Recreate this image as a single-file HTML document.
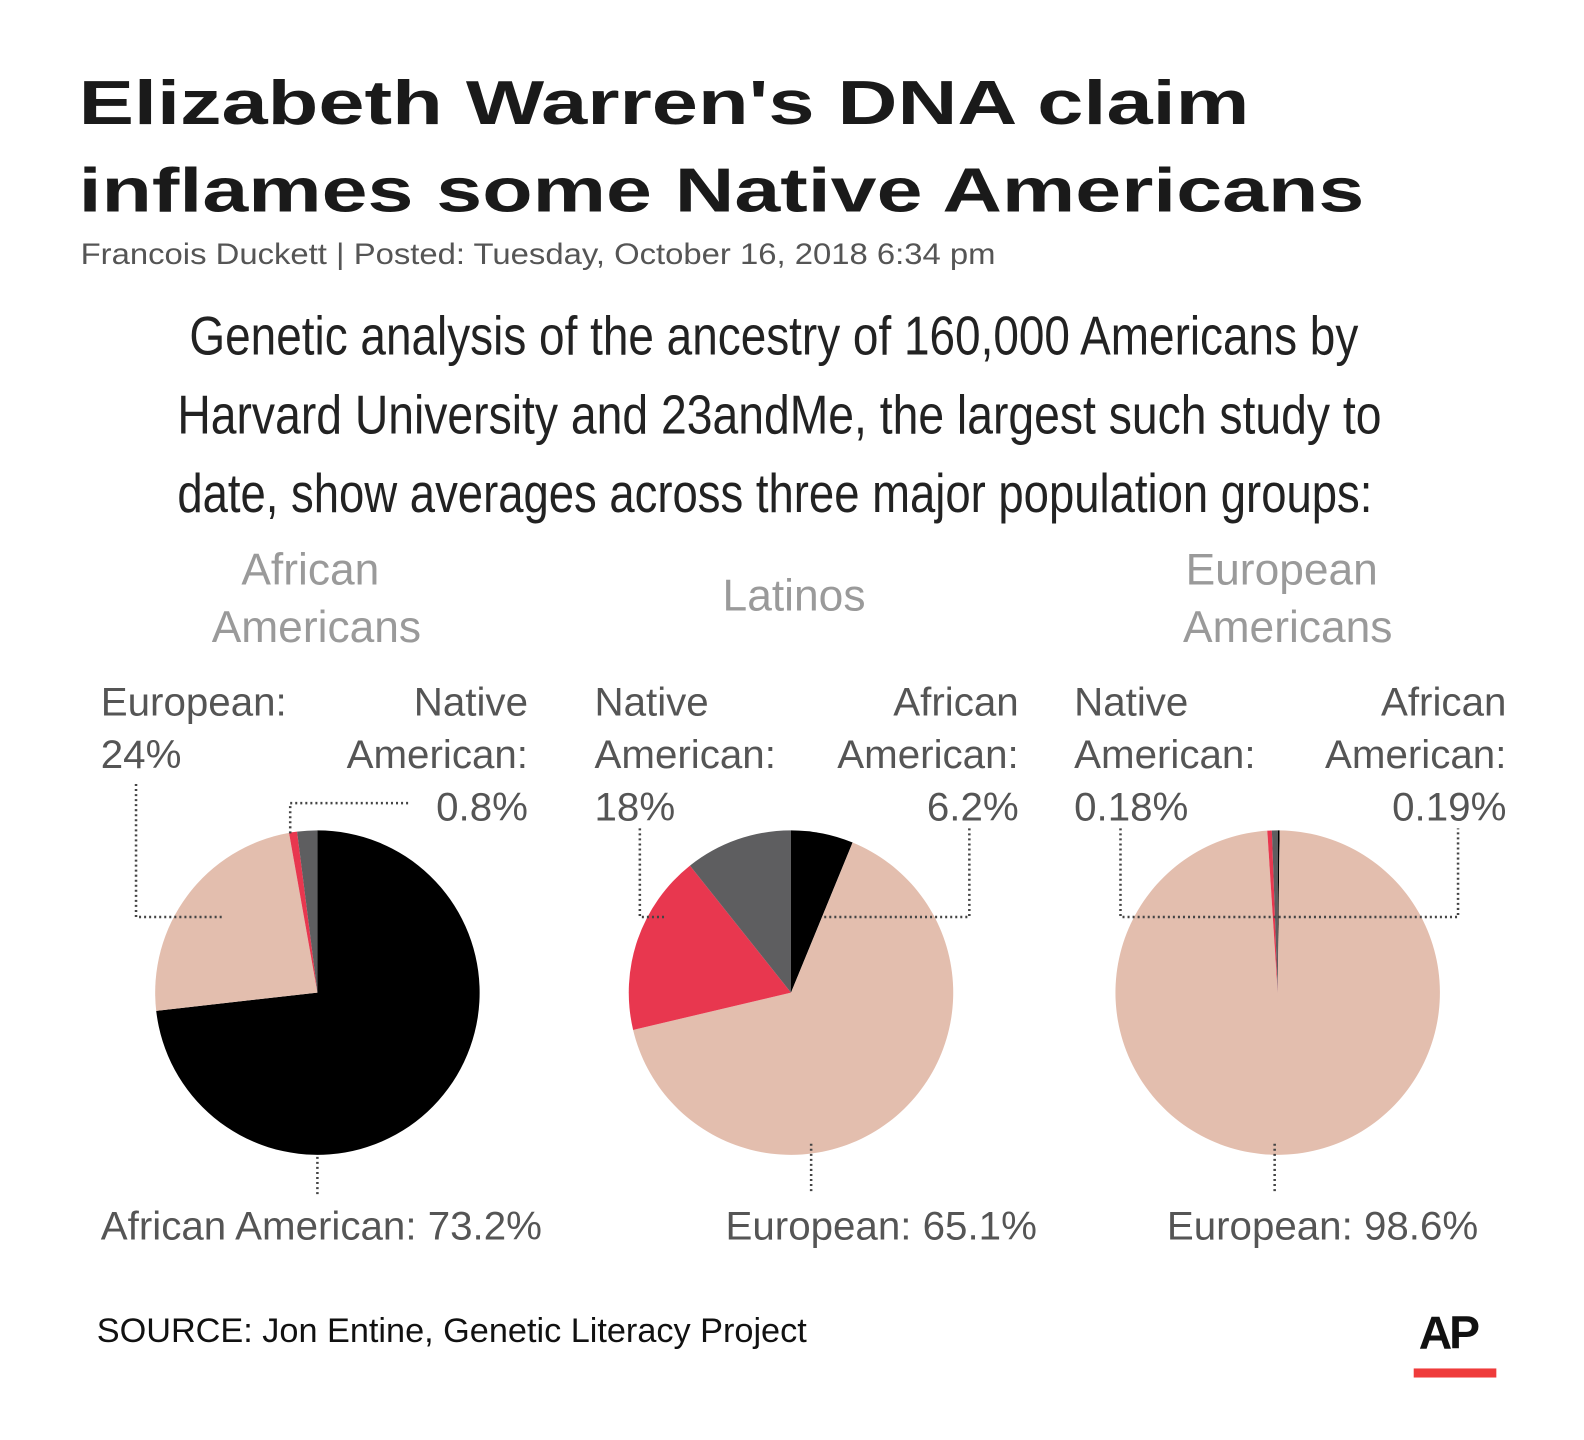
<!DOCTYPE html>
<html><head><meta charset="utf-8"><style>
html,body{margin:0;padding:0;background:#fff;}
svg{display:block;}
text{font-family:"Liberation Sans",Arial,sans-serif;}
</style></head><body>
<svg id="chart" width="1584" height="1440" viewBox="0 0 1572 1429" preserveAspectRatio="none">
<rect width="1572" height="1429" fill="#fff"/>
<text x="78" y="123" font-size="62" font-weight="bold" fill="#1a1a1a" textLength="1162" lengthAdjust="spacingAndGlyphs">Elizabeth Warren's DNA claim</text>
<text x="78" y="210" font-size="62" font-weight="bold" fill="#1a1a1a" textLength="1276" lengthAdjust="spacingAndGlyphs">inflames some Native Americans</text>
<text x="80" y="262" font-size="29" fill="#555" textLength="908" lengthAdjust="spacingAndGlyphs">Francois Duckett | Posted: Tuesday, October 16, 2018 6:34 pm</text>
<g fill="#222" font-size="54">
<text x="188" y="352" textLength="1160" lengthAdjust="spacingAndGlyphs">Genetic analysis of the ancestry of 160,000 Americans by</text>
<text x="176" y="430" textLength="1195" lengthAdjust="spacingAndGlyphs">Harvard University and 23andMe, the largest such study to</text>
<text x="176" y="508" textLength="1186" lengthAdjust="spacingAndGlyphs">date, show averages across three major population groups:</text>
</g>
<g fill="#9a9a9a" font-size="44" text-anchor="middle">
<text x="308" y="580">African</text>
<text x="314" y="637">Americans</text>
<text x="788" y="606">Latinos</text>
<text x="1272" y="580">European</text>
<text x="1278" y="637">Americans</text>
</g>
<g fill="#555" font-size="40">
<text x="100" y="710">European:</text><text x="100" y="762">24%</text>
<text x="524" y="710" text-anchor="end">Native</text><text x="524" y="762" text-anchor="end">American:</text><text x="524" y="814" text-anchor="end">0.8%</text>
<text x="100" y="1230">African American: 73.2%</text>
<text x="590" y="710">Native</text><text x="590" y="762">American:</text><text x="590" y="814">18%</text>
<text x="1011" y="710" text-anchor="end">African</text><text x="1011" y="762" text-anchor="end">American:</text><text x="1011" y="814" text-anchor="end">6.2%</text>
<text x="720" y="1230">European: 65.1%</text>
<text x="1066" y="710">Native</text><text x="1066" y="762">American:</text><text x="1066" y="814">0.18%</text>
<text x="1495" y="710" text-anchor="end">African</text><text x="1495" y="762" text-anchor="end">American:</text><text x="1495" y="814" text-anchor="end">0.19%</text>
<text x="1158" y="1230">European: 98.6%</text>
</g>
<g id="pies"></g>
<g fill="none" stroke="#444" stroke-width="2.5" stroke-dasharray="2 3">
<polyline points="135,778 135,910 222,910"/>
<polyline points="405,797 288,797 288,830"/>
<polyline points="315,1148 315,1185"/>
<polyline points="635,822 635,910 662,910"/>
<polyline points="962,822 962,910 818,910"/>
<polyline points="805,1135 805,1185"/>
<polyline points="1112,822 1112,910 1447,910 1447,822"/>
<polyline points="1265,1135 1265,1185"/>
</g>
<text x="96" y="1332" font-size="34" fill="#111">SOURCE: Jon Entine, Genetic Literacy Project</text>
<text x="1408" y="1338" font-size="46" font-weight="bold" fill="#111" letter-spacing="-3">AP</text>
<rect x="1403" y="1358" width="82" height="9" fill="#ef3b3b"/>
</svg>
<script>
// clockwise from 12 o'clock
const groups = ["African Americans", "Latinos", "European Americans"];
const sliceNames1 = ["african", "european", "native", "other"];
const values1 = [73.2, 24, 0.8, 2];
const sliceNames2 = ["african", "european", "native", "other"];
const values2 = [6.2, 65.1, 18, 10.7];
const sliceNames3 = ["african", "european", "native", "other"];
const values3 = [0.19, 98.6, 0.45, 0.57];
const colors = {african:"#000000", european:"#e3beae", native:"#e8374f", other:"#5e5e60"};
const centers = [[315,985],[785,985],[1268,985]];
const R = 161;
const ns = "http://www.w3.org/2000/svg";
const g = document.getElementById('pies');
function pt(cx,cy,a){return [cx+R*Math.sin(a), cy-R*Math.cos(a)];}
[[sliceNames1,values1],[sliceNames2,values2],[sliceNames3,values3]].forEach(([names,vals],i)=>{
  const [cx,cy]=centers[i];
  const total = vals.reduce((a,b)=>a+b,0);
  let a0 = 0;
  vals.forEach((v,j)=>{
    const a1 = a0 + v/total*2*Math.PI;
    const p0=pt(cx,cy,a0), p1=pt(cx,cy,a1);
    const large = (a1-a0)>Math.PI?1:0;
    const p = document.createElementNS(ns,'path');
    p.setAttribute('d',`M${cx},${cy} L${p0[0]},${p0[1]} A${R},${R} 0 ${large} 1 ${p1[0]},${p1[1]} Z`);
    p.setAttribute('fill',colors[names[j]]);
    
    
    g.appendChild(p);
    a0=a1;
  });
});
</script>
</body></html>
